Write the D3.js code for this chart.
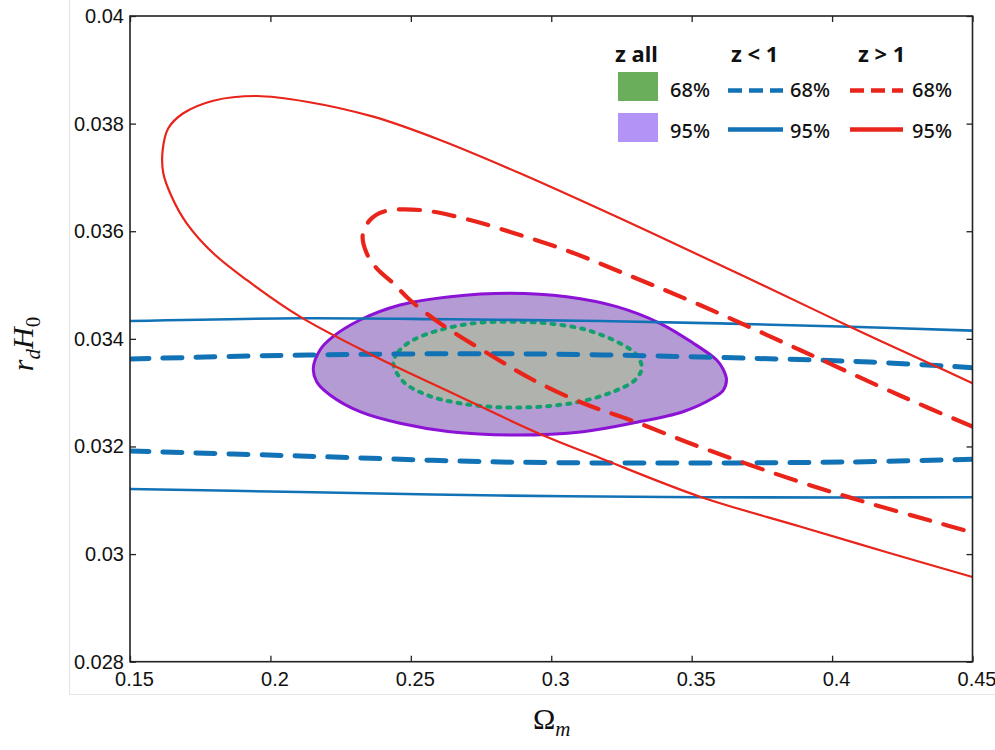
<!DOCTYPE html>
<html>
<head>
<meta charset="utf-8">
<script src="https://cdn.jsdelivr.net/npm/d3@7"></script>
<style>
  html, body { margin: 0; padding: 0; background: #fff; }
  svg { display: block; }
</style>
</head>
<body>
<svg id="chart" width="995" height="750"></svg>
<script>
// ---------- data (Ω_m, r_d H_0) ----------
const xTicks = [0.15, 0.2, 0.25, 0.3, 0.35, 0.4, 0.45];
const xTickLabels = ["0.15", "0.2", "0.25", "0.3", "0.35", "0.4", "0.45"];
const yTicks = [0.028, 0.03, 0.032, 0.034, 0.036, 0.038, 0.04];
const yTickLabels = ["0.028", "0.03", "0.032", "0.034", "0.036", "0.038", "0.04"];

// z all, 95% (closed, filled)
const zAll95 = [
  [0.21527,0.033453],[0.21766,0.033793],[0.22228,0.034040],[0.23190,0.034350],
  [0.24614,0.034629],[0.26395,0.034783],[0.28531,0.034847],[0.30550,0.034783],
  [0.32330,0.034598],[0.33872,0.034289],[0.35047,0.033923],[0.35891,0.033607],
  [0.36116,0.033440],[0.36240,0.033235],[0.36116,0.033040],[0.35760,0.032901],
  [0.34691,0.032646],[0.32911,0.032436],[0.31130,0.032275],[0.28770,0.032213],
  [0.26395,0.032275],[0.24614,0.032431],[0.23190,0.032646],[0.22122,0.032957],
  [0.21648,0.033204]
];
// z all, 68% (closed, filled)
const zAll68 = [
  [0.24376,0.033546],[0.24554,0.033761],[0.25088,0.033979],[0.26039,0.034165],
  [0.27224,0.034289],[0.28414,0.034319],[0.29838,0.034289],[0.31262,0.034165],
  [0.32448,0.033917],[0.33043,0.033700],[0.33221,0.033453],[0.32982,0.033235],
  [0.32209,0.033018],[0.31024,0.032832],[0.29599,0.032739],[0.28175,0.032728],
  [0.26751,0.032802],[0.25565,0.032957],[0.24732,0.033204]
];
// z < 1 : open branches crossing the whole plot
const zLow95Upper = [
  [0.15,0.034332],[0.21053,0.034382],[0.26395,0.034363],[0.31736,0.034332],
  [0.40638,0.034226],[0.45,0.034152]
];
const zLow95Lower = [
  [0.15,0.031210],[0.21053,0.031154],[0.28175,0.031089],[0.35297,0.031056],
  [0.40638,0.031052],[0.45,0.031056]
];
const zLow68Upper = [
  [0.15,0.033626],[0.21349,0.033700],[0.29350,0.033719],[0.37077,0.033639],
  [0.41350,0.033570],[0.45,0.033464]
];
const zLow68Lower = [
  [0.15,0.031916],[0.21053,0.031823],[0.28175,0.031712],[0.35297,0.031693],
  [0.40638,0.031712],[0.45,0.031762]
];
// z > 1 : contours open to the right
const zHigh95 = [
  [0.45,0.033174],[0.43593,0.033514],[0.40638,0.034226],[0.37672,0.034964],
  [0.36009,0.035373],[0.32448,0.036240],[0.28887,0.037077],[0.26039,0.037696],
  [0.23663,0.038129],[0.21292,0.038407],[0.19512,0.038513],[0.17966,0.038426],
  [0.16898,0.038192],[0.16364,0.037913],[0.16164,0.037510],[0.16186,0.037077],
  [0.16485,0.036642],[0.17019,0.036148],[0.17966,0.035590],[0.19156,0.035094],
  [0.21053,0.034412],[0.23546,0.033719],[0.26395,0.033012],[0.29599,0.032232],
  [0.31736,0.031786],[0.35297,0.031067],[0.38857,0.030513],[0.41920,0.030039],
  [0.45,0.029574]
];
const zHigh68 = [
  [0.45,0.032368],[0.42418,0.032947],[0.38857,0.033793],[0.35297,0.034629],
  [0.32448,0.035248],[0.30668,0.035620],[0.28887,0.035930],[0.27107,0.036209],
  [0.25326,0.036395],[0.24020,0.036363],[0.23546,0.036209],[0.23286,0.035930],
  [0.23428,0.035590],[0.23785,0.035311],[0.24376,0.035033],[0.24970,0.034722],
  [0.26039,0.034289],[0.27936,0.033668],[0.29361,0.033235],[0.31141,0.032802],
  [0.32911,0.032473],[0.35297,0.031990],[0.38857,0.031340],[0.41232,0.030959],
  [0.43604,0.030606],[0.45,0.030401]
];

const legendHeaders = ["z all", "z < 1", "z > 1"];
const legendLevels = ["68%", "95%"];

// ---------- layout ----------
const svg = d3.select("#chart");
const L = 130, R = 972.5, T = 16, B = 661.7;
const x = d3.scaleLinear().domain([0.15, 0.45]).range([L, R]);
const y = d3.scaleLinear().domain([0.028, 0.04]).range([B, T]);

const RED = "#e8241b", BLUE = "#1272b6", GREEN = "#14a06e", PURPLE = "#8c12d6";

// faint outer frame of the original figure
svg.append("line").attr("x1", 69.5).attr("x2", 69.5).attr("y1", 0).attr("y2", 694.5)
  .attr("stroke", "#e6e6e6").attr("stroke-width", 1.2);
svg.append("line").attr("x1", 69.5).attr("x2", 995).attr("y1", 694.5).attr("y2", 694.5)
  .attr("stroke", "#e6e6e6").attr("stroke-width", 1.2);

svg.append("defs").append("clipPath").attr("id", "plotclip")
  .append("rect").attr("x", L).attr("y", T).attr("width", R - L).attr("height", B - T);

const plot = svg.append("g").attr("clip-path", "url(#plotclip)");

const lineOpen = d3.line().x(d => x(d[0])).y(d => y(d[1])).curve(d3.curveCatmullRom.alpha(0.5));
const lineClosed = d3.line().x(d => x(d[0])).y(d => y(d[1])).curve(d3.curveCatmullRomClosed.alpha(0.5));

// z all 95%
plot.append("path").attr("d", lineClosed(zAll95))
  .attr("fill", "#b59bd3").attr("stroke", PURPLE).attr("stroke-width", 3);
// z all 68%
plot.append("path").attr("d", lineClosed(zAll68))
  .attr("fill", "#b0b2ad").attr("stroke", GREEN).attr("stroke-width", 4)
  .attr("stroke-dasharray", "3,7").attr("stroke-linecap", "round");

// z < 1
[zLow95Upper, zLow95Lower].forEach(d => {
  plot.append("path").attr("d", lineOpen(d)).attr("fill", "none")
    .attr("stroke", BLUE).attr("stroke-width", 2.6);
});
[zLow68Upper, zLow68Lower].forEach(d => {
  plot.append("path").attr("d", lineOpen(d)).attr("fill", "none")
    .attr("stroke", BLUE).attr("stroke-width", 5)
    .attr("stroke-dasharray", "19,14").attr("stroke-linecap", "round");
});

// z > 1
plot.append("path").attr("d", lineOpen(zHigh95)).attr("fill", "none")
  .attr("stroke", RED).attr("stroke-width", 2.2);
plot.append("path").attr("d", lineOpen(zHigh68)).attr("fill", "none")
  .attr("stroke", RED).attr("stroke-width", 4.2)
  .attr("stroke-dasharray", "21,14").attr("stroke-linecap", "round");

// ---------- axes ----------
const tickFont = "'Liberation Sans', Arial, Helvetica, sans-serif";
const gx = svg.append("g").attr("transform", `translate(0,${B})`)
  .call(d3.axisBottom(x).tickValues(xTicks).tickSize(-6).tickPadding(10)
    .tickFormat((d, i) => xTickLabels[i]));
const gy = svg.append("g").attr("transform", `translate(${L},0)`)
  .call(d3.axisLeft(y).tickValues(yTicks).tickSize(-6).tickPadding(6)
    .tickFormat((d, i) => yTickLabels[i]));
const gt = svg.append("g").attr("transform", `translate(0,${T})`)
  .call(d3.axisTop(x).tickValues(xTicks).tickSize(-6).tickFormat(""));
const gr = svg.append("g").attr("transform", `translate(${R},0)`)
  .call(d3.axisRight(y).tickValues(yTicks).tickSize(-6).tickFormat(""));
[gx, gy, gt, gr].forEach(g => {
  g.select(".domain").remove();
  g.selectAll(".tick line").attr("stroke", "#222").attr("stroke-width", 1.3);
  g.selectAll("text").attr("font-family", tickFont).attr("font-size", 20).attr("fill", "#111");
});
gx.selectAll(".tick text").attr("dx", 4);

svg.append("rect").attr("x", L).attr("y", T).attr("width", R - L).attr("height", B - T)
  .attr("fill", "none").attr("stroke", "#222").attr("stroke-width", 1.6);

// axis titles
const serif = "'Liberation Serif', 'Times New Roman', 'DejaVu Serif', serif";
const xt = svg.append("text").attr("x", 533).attr("y", 729)
  .attr("font-family", serif).attr("font-size", 30).attr("fill", "#111");
xt.append("tspan").text("Ω");
xt.append("tspan").attr("font-style", "italic").attr("font-size", 21).attr("dy", 7).text("m");

const yt = svg.append("text").attr("transform", "translate(33,344) rotate(-90)")
  .attr("text-anchor", "middle")
  .attr("font-family", serif).attr("font-size", 30).attr("fill", "#111");
yt.append("tspan").attr("font-style", "italic").text("r");
yt.append("tspan").attr("font-style", "italic").attr("font-size", 21).attr("dy", 7).text("d");
yt.append("tspan").attr("font-style", "italic").attr("dy", -7).text("H");
yt.append("tspan").attr("font-size", 21).attr("dy", 7).text("0");

// ---------- legend ----------
const lf = "'Noto Sans', 'Liberation Sans', Arial, sans-serif";
const leg = svg.append("g");
const headerX = [615, 731, 858];
legendHeaders.forEach((h, i) => {
  leg.append("text").attr("x", headerX[i]).attr("y", 62).text(h)
    .attr("font-family", lf).attr("font-size", 22).attr("font-weight", 700).attr("fill", "#111");
});
// swatches
leg.append("rect").attr("x", 618).attr("y", 72).attr("width", 40).attr("height", 29).attr("fill", "#6aad5a");
leg.append("rect").attr("x", 618).attr("y", 113).attr("width", 40).attr("height", 29).attr("fill", "#b493f7");
// lines
const lineRowY = [90.5, 129.5];
[[728, 783, BLUE], [850, 903, RED]].forEach(([x1, x2, c]) => {
  leg.append("line").attr("x1", x1).attr("x2", x2).attr("y1", lineRowY[0]).attr("y2", lineRowY[0])
    .attr("stroke", c).attr("stroke-width", 4.5).attr("stroke-dasharray", "14,7");
  leg.append("line").attr("x1", x1).attr("x2", x2).attr("y1", lineRowY[1]).attr("y2", lineRowY[1])
    .attr("stroke", c).attr("stroke-width", 4.5);
});
const levelX = [670, 790, 912];
levelX.forEach(lx => {
  legendLevels.forEach((lv, j) => {
    leg.append("text").attr("x", lx).attr("y", j === 0 ? 97 : 137.5).text(lv)
      .attr("font-family", lf).attr("font-size", 20).attr("font-weight", 500).attr("fill", "#111");
  });
});
</script>
</body>
</html>
